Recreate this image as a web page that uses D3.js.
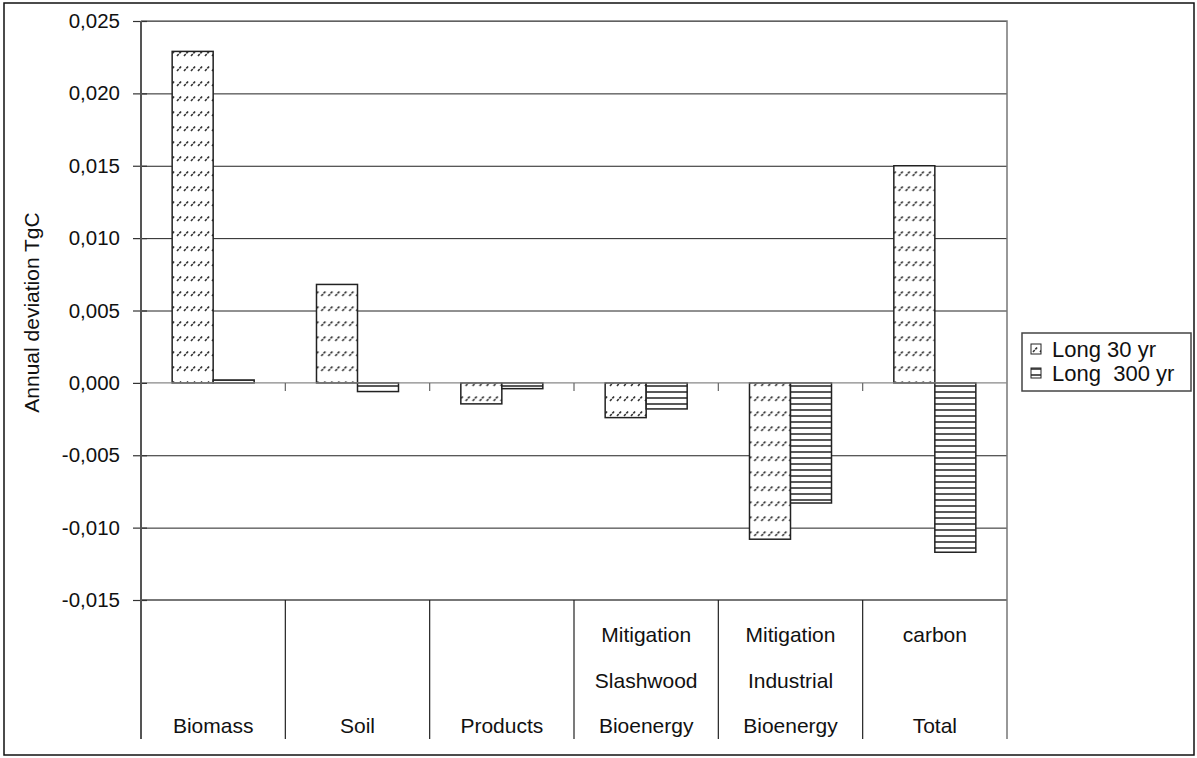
<!DOCTYPE html>
<meta charset="utf-8">
<script src="https://d3js.org/d3.v7.min.js"></script>
<style>
    body {
        margin: 0;
        background: #fff;
    }
    text {
        font-family: 'Liberation Sans', Arial, sans-serif;
        fill: #111;
    }
    .grid line {
        stroke: #222;
        stroke-width: 1;
    }
    .grid path {
        display: none;
    }
    .bar {
        stroke: #222;
        stroke-width: 1.5;
    }
</style>
<body>
<svg width="1197" height="758" class="chart"></svg>
</body>

<script>
    // values
    const categoryLines = [
        ['Biomass'],
        ['Soil'],
        ['Products'],
        ['Mitigation', 'Slashwood', 'Bioenergy'],
        ['Mitigation', 'Industrial', 'Bioenergy'],
        ['carbon', '', 'Total'],
    ];
    const categories = categoryLines.map(d => d.join(' '));
    const seriesNames = ['Long 30 yr', 'Long  300 yr'];
    const long30 = [0.0229, 0.0068, -0.00145, -0.0024, -0.0108, 0.0150];
    const long300 = [0.0002, -0.0006, -0.0004, -0.0018, -0.0083, -0.0117];
    const yTicks = [-0.015, -0.010, -0.005, 0, 0.005, 0.010, 0.015, 0.020, 0.025];
    const yTitle = 'Annual deviation TgC';

    const data = categories.map((c, i) => ({
        category: c,
        values: [
            { series: seriesNames[0], value: long30[i] },
            { series: seriesNames[1], value: long300[i] },
        ],
    }));

    const plot = { left: 141, right: 1007, top: 21, bottom: 600 };
    const labelBottom = 739;

    const svg = d3.select('.chart');

    // outer border
    svg.append('rect')
        .attr('x', 4).attr('y', 3)
        .attr('width', 1190).attr('height', 752)
        .attr('fill', 'none')
        .attr('stroke', '#111')
        .attr('stroke-width', 1.5);

    // fill patterns
    const defs = svg.append('defs');
    function diagPattern(id, offset) {
        const p = defs.append('pattern')
            .attr('id', id)
            .attr('patternUnits', 'userSpaceOnUse')
            .attr('width', 7).attr('height', 15)
            .attr('x', offset[0])
            .attr('y', offset[1]);
        p.append('rect').attr('width', 7).attr('height', 15).attr('fill', '#fff');
        p.append('line')
            .attr('x1', 1).attr('y1', 11).attr('x2', 5.5).attr('y2', 6)
            .attr('stroke', '#333').attr('stroke-width', 1.6)
            .attr('stroke-dasharray', '2.6,0.9');
    }
    diagPattern('pat30', [0, 0]);
    diagPattern('pat30legend', [3, 7]);

    const horiz = defs.append('pattern')
        .attr('id', 'pat300')
        .attr('patternUnits', 'userSpaceOnUse')
        .attr('width', 8).attr('height', 6);
    horiz.append('rect').attr('width', 8).attr('height', 6).attr('fill', '#fff');
    horiz.append('line')
        .attr('x1', 0).attr('y1', 2).attr('x2', 8).attr('y2', 2)
        .attr('stroke', '#111').attr('stroke-width', 1.4);

    const fills = { [seriesNames[0]]: 'url(#pat30)', [seriesNames[1]]: 'url(#pat300)' };
    const legendFills = { [seriesNames[0]]: 'url(#pat30legend)', [seriesNames[1]]: 'url(#pat300)' };

    const x = d3.scaleBand()
        .domain(categories)
        .range([plot.left, plot.right]);

    const x1 = d3.scaleBand()
        .domain(seriesNames)
        .range([0, x.bandwidth()])
        .paddingInner(0)
        .paddingOuter(0.76);

    const y = d3.scaleLinear()
        .domain([-0.015, 0.025])
        .range([plot.bottom, plot.top]);

    const locale = d3.formatLocale({ decimal: ',', thousands: '.', grouping: [3], currency: ['', ''], minus: '-' });
    const fmt = locale.format('.3f');

    // grid lines
    svg.append('g')
        .attr('class', 'grid')
        .attr('transform', 'translate(' + plot.left + ',0)')
        .call(d3.axisRight(y).tickValues(yTicks.filter(d => d !== 0 && d !== -0.015)).tickSize(plot.right - plot.left).tickFormat(''));

    // plot area border (top, right, bottom) in grey
    svg.append('path')
        .attr('d', 'M' + plot.left + ',' + y(0.025) + 'H' + plot.right + 'V' + labelBottom)
        .attr('fill', 'none')
        .attr('stroke', '#777')
        .attr('stroke-width', 1.5);
    svg.append('line')
        .attr('x1', plot.left).attr('x2', plot.right)
        .attr('y1', y(-0.015)).attr('y2', y(-0.015))
        .attr('stroke', '#777')
        .attr('stroke-width', 2);

    // category area dividers
    svg.append('g')
        .selectAll('line')
        .data(categories.slice(1))
        .enter()
        .append('line')
        .attr('x1', d => x(d)).attr('x2', d => x(d))
        .attr('y1', y(-0.015)).attr('y2', labelBottom)
        .attr('stroke', '#222')
        .attr('stroke-width', 1.2);

    // bars
    const groups = svg.append('g')
        .selectAll('g')
        .data(data)
        .enter()
        .append('g')
        .attr('transform', d => 'translate(' + x(d.category) + ',0)');

    groups.selectAll('rect')
        .data(d => d.values)
        .enter()
        .append('rect')
        .attr('class', 'bar')
        .attr('x', d => x1(d.series))
        .attr('y', d => y(Math.max(0, d.value)))
        .attr('width', x1.bandwidth())
        .attr('height', d => Math.abs(y(d.value) - y(0)))
        .attr('fill', d => fills[d.series]);

    // zero line with category ticks
    svg.append('line')
        .attr('x1', plot.left).attr('x2', plot.right)
        .attr('y1', y(0)).attr('y2', y(0))
        .attr('stroke', '#888')
        .attr('stroke-width', 1.3);
    svg.append('g')
        .selectAll('line')
        .data(categories.slice(1))
        .enter()
        .append('line')
        .attr('x1', d => x(d)).attr('x2', d => x(d))
        .attr('y1', y(0)).attr('y2', y(0) + 8)
        .attr('stroke', '#666')
        .attr('stroke-width', 1.2);

    // y axis
    const yAxis = svg.append('g')
        .attr('transform', 'translate(' + plot.left + ',0)')
        .call(d3.axisLeft(y).tickValues(yTicks).tickFormat(fmt).tickSizeInner(8).tickSizeOuter(0).tickPadding(13));
    yAxis.select('.domain').remove();
    yAxis.selectAll('.tick line').attr('x2', 6).attr('x1', -8).attr('stroke', '#333').attr('stroke-width', 1.2);
    yAxis.selectAll('.tick text')
        .style('font-family', "'Liberation Sans', Arial, sans-serif")
        .style('font-size', '20.5px')
        .attr('fill', '#111');
    svg.append('line')
        .attr('x1', plot.left).attr('x2', plot.left)
        .attr('y1', y(0.025)).attr('y2', labelBottom)
        .attr('stroke', '#555')
        .attr('stroke-width', 2);

    svg.append('text')
        .attr('transform', 'translate(39,' + ((plot.top + plot.bottom) / 2 + 2) + ') rotate(-90)')
        .attr('text-anchor', 'middle')
        .style('font-size', '21px')
        .text(yTitle);

    // category labels, bottom aligned
    const lineGap = 45.5;
    const catLabels = svg.append('g')
        .selectAll('text')
        .data(categoryLines)
        .enter()
        .append('text')
        .attr('text-anchor', 'middle')
        .style('font-size', '21px');
    catLabels.each(function (lines, i) {
        const t = d3.select(this);
        lines.forEach((l, j) => {
            t.append('tspan')
                .attr('x', x(categories[i]) + x.bandwidth() / 2)
                .attr('y', labelBottom - 6 - (lines.length - 1 - j) * lineGap)
                .text(l);
        });
    });

    // legend
    const legend = svg.append('g').attr('transform', 'translate(1022,333)');
    legend.append('rect')
        .attr('width', 169).attr('height', 58)
        .attr('fill', '#fff')
        .attr('stroke', '#444')
        .attr('stroke-width', 1.5);
    const items = legend.selectAll('.item')
        .data(seriesNames)
        .enter()
        .append('g')
        .attr('class', 'item')
        .attr('transform', (d, i) => 'translate(0,' + (16 + i * 24) + ')');
    items.append('rect')
        .attr('x', 9).attr('y', -5)
        .attr('width', 10).attr('height', 10)
        .attr('fill', d => legendFills[d])
        .attr('stroke', '#222')
        .attr('stroke-width', 1);
    items.append('text')
        .attr('x', 30)
        .attr('dy', '0.36em')
        .style('font-size', '22px')
        .style('white-space', 'pre')
        .attr('xml:space', 'preserve')
        .text(d => d);
</script>
